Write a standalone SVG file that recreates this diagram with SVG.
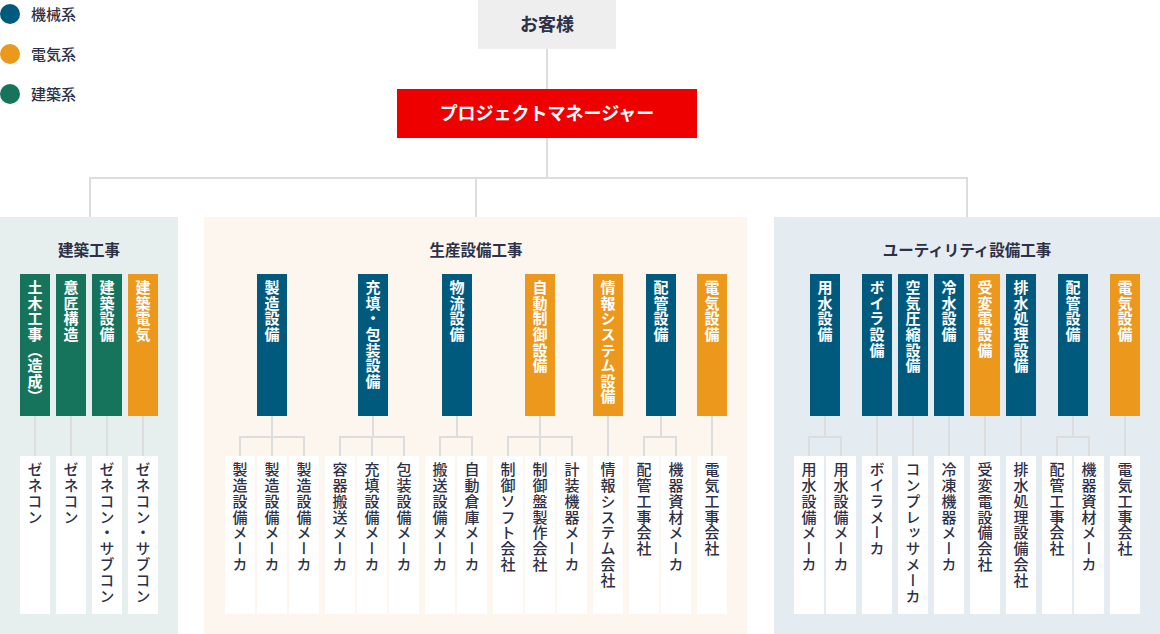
<svg xmlns="http://www.w3.org/2000/svg" width="1160" height="634" viewBox="0 0 1160 634">
<style>
text{font-family:"Noto Sans CJK JP","Noto Sans",sans-serif}
.ln{stroke:#dddddd;stroke-width:2;fill:none}
.b{fill:#005a7e}.o{fill:#eb981d}.g{fill:#16745d}
.w{fill:#ffffff}
.ct{fill:#ffffff;font-size:15px;font-weight:700;writing-mode:vertical-rl;letter-spacing:0.6px}
.lt{fill:#2d3047;font-size:15px;font-weight:500;writing-mode:vertical-rl;letter-spacing:0.8px}
.st{fill:#2d3047;font-size:15.5px;font-weight:700;text-anchor:middle}
.lg{fill:#2d3047;font-size:15px;font-weight:500}
</style>
<g id="legend">
<circle cx="10" cy="14" r="10" class="b"/><text x="31" y="19.5" class="lg">機械系</text>
<circle cx="10" cy="54" r="10" class="o"/><text x="31" y="59.5" class="lg">電気系</text>
<circle cx="10" cy="94" r="10" class="g"/><text x="31" y="99.5" class="lg">建築系</text>
</g>
<g id="sections">
<rect x="0" y="217" width="178" height="417" fill="#e6efee"/>
<rect x="204" y="217" width="543" height="417" fill="#fdf6ef"/>
<rect x="774" y="217" width="386" height="417" fill="#e4ecf1"/>
<text x="89" y="255.5" class="st">建築工事</text>
<text x="476" y="255.5" class="st">生産設備工事</text>
<text x="967" y="255.5" class="st">ユーティリティ設備工事</text>
</g>
<g id="connectors">
<path class="ln" d="M547 49V89M547 138V178M89 178H968M90 177V217M476 177V217M967 177V217"/>
<path class="ln" d="M35 416V456M71 416V456M107 416V456M143 416V456"/>
<path class="ln" d="M272 416V437M240 456V437H304V456M272 437V456"/>
<path class="ln" d="M373 416V437M340 456V437H404V456M372 437V456"/>
<path class="ln" d="M457 416V437M440 456V437H472V456"/>
<path class="ln" d="M540 416V437M508 456V437H572V456M540 437V456"/>
<path class="ln" d="M608 416V456"/>
<path class="ln" d="M661 416V437M644 456V437H676V456"/>
<path class="ln" d="M712 416V456"/>
<path class="ln" d="M825 416V437M809 456V437H841V456"/>
<path class="ln" d="M877 416V456M913 416V456M949 416V456M985 416V456M1021 416V456"/>
<path class="ln" d="M1073 416V437M1057 456V437H1089V456"/>
<path class="ln" d="M1125 416V456"/>
</g>
<g id="customer"><rect x="478" y="0" width="138" height="49" fill="#eeeeee"/><text x="547" y="31" text-anchor="middle" font-size="18" font-weight="700" fill="#2d3047">お客様</text></g>
<g id="pm"><rect x="397" y="89" width="300" height="49" fill="#ee0000"/><text x="547" y="120" text-anchor="middle" font-size="18" font-weight="700" fill="#ffffff">プロジェクトマネージャー</text></g>
<g id="c-doboku"><rect x="20" y="274" width="30" height="142" class="g"/><text x="35" y="280" class="ct">土木工事（造成）</text></g>
<g id="c-isho"><rect x="56" y="274" width="30" height="142" class="g"/><text x="71" y="280" class="ct">意匠構造</text></g>
<g id="c-kensetsubi"><rect x="92" y="274" width="30" height="142" class="g"/><text x="107" y="280" class="ct">建築設備</text></g>
<g id="c-kendenki"><rect x="128" y="274" width="30" height="142" class="o"/><text x="143" y="280" class="ct">建築電気</text></g>
<g id="l-1"><rect x="20" y="456" width="30" height="158" class="w"/><text x="35" y="462" class="lt">ゼネコン</text></g>
<g id="l-2"><rect x="56" y="456" width="30" height="158" class="w"/><text x="71" y="462" class="lt">ゼネコン</text></g>
<g id="l-3"><rect x="92" y="456" width="30" height="158" class="w"/><text x="107" y="462" class="lt">ゼネコン・サブコン</text></g>
<g id="l-4"><rect x="128" y="456" width="30" height="158" class="w"/><text x="143" y="462" class="lt">ゼネコン・サブコン</text></g>
<g id="c-seizo"><rect x="257" y="274" width="30" height="142" class="b"/><text x="272" y="280" class="ct">製造設備</text></g>
<g id="c-juten"><rect x="358" y="274" width="30" height="142" class="b"/><text x="373" y="280" class="ct">充填・包装設備</text></g>
<g id="c-butsuryu"><rect x="442" y="274" width="30" height="142" class="b"/><text x="457" y="280" class="ct">物流設備</text></g>
<g id="c-jido"><rect x="525" y="274" width="30" height="142" class="o"/><text x="540" y="280" class="ct">自動制御設備</text></g>
<g id="c-joho"><rect x="593" y="274" width="30" height="142" class="o"/><text x="608" y="280" class="ct">情報システム設備</text></g>
<g id="c-haikan1"><rect x="646" y="274" width="30" height="142" class="b"/><text x="661" y="280" class="ct">配管設備</text></g>
<g id="c-denki1"><rect x="697" y="274" width="30" height="142" class="o"/><text x="712" y="280" class="ct">電気設備</text></g>
<g id="m-1"><rect x="225" y="456" width="30" height="158" class="w"/><text x="240" y="462" class="lt">製造設備メーカ</text></g>
<g id="m-2"><rect x="257" y="456" width="30" height="158" class="w"/><text x="272" y="462" class="lt">製造設備メーカ</text></g>
<g id="m-3"><rect x="289" y="456" width="30" height="158" class="w"/><text x="304" y="462" class="lt">製造設備メーカ</text></g>
<g id="m-4"><rect x="325" y="456" width="30" height="158" class="w"/><text x="340" y="462" class="lt">容器搬送メーカ</text></g>
<g id="m-5"><rect x="357" y="456" width="30" height="158" class="w"/><text x="372" y="462" class="lt">充填設備メーカ</text></g>
<g id="m-6"><rect x="389" y="456" width="30" height="158" class="w"/><text x="404" y="462" class="lt">包装設備メーカ</text></g>
<g id="m-7"><rect x="425" y="456" width="30" height="158" class="w"/><text x="440" y="462" class="lt">搬送設備メーカ</text></g>
<g id="m-8"><rect x="457" y="456" width="30" height="158" class="w"/><text x="472" y="462" class="lt">自動倉庫メーカ</text></g>
<g id="m-9"><rect x="493" y="456" width="30" height="158" class="w"/><text x="508" y="462" class="lt">制御ソフト会社</text></g>
<g id="m-10"><rect x="525" y="456" width="30" height="158" class="w"/><text x="540" y="462" class="lt">制御盤製作会社</text></g>
<g id="m-11"><rect x="557" y="456" width="30" height="158" class="w"/><text x="572" y="462" class="lt">計装機器メーカ</text></g>
<g id="m-12"><rect x="593" y="456" width="30" height="158" class="w"/><text x="608" y="462" class="lt">情報システム会社</text></g>
<g id="m-13"><rect x="629" y="456" width="30" height="158" class="w"/><text x="644" y="462" class="lt">配管工事会社</text></g>
<g id="m-14"><rect x="661" y="456" width="30" height="158" class="w"/><text x="676" y="462" class="lt">機器資材メーカ</text></g>
<g id="m-15"><rect x="697" y="456" width="30" height="158" class="w"/><text x="712" y="462" class="lt">電気工事会社</text></g>
<g id="c-yosui"><rect x="810" y="274" width="30" height="142" class="b"/><text x="825" y="280" class="ct">用水設備</text></g>
<g id="c-boira"><rect x="862" y="274" width="30" height="142" class="b"/><text x="877" y="280" class="ct">ボイラ設備</text></g>
<g id="c-kuki"><rect x="898" y="274" width="30" height="142" class="b"/><text x="913" y="280" class="ct">空気圧縮設備</text></g>
<g id="c-reisui"><rect x="934" y="274" width="30" height="142" class="b"/><text x="949" y="280" class="ct">冷水設備</text></g>
<g id="c-juhen"><rect x="970" y="274" width="30" height="142" class="o"/><text x="985" y="280" class="ct">受変電設備</text></g>
<g id="c-haisui"><rect x="1006" y="274" width="30" height="142" class="b"/><text x="1021" y="280" class="ct">排水処理設備</text></g>
<g id="c-haikan2"><rect x="1058" y="274" width="30" height="142" class="b"/><text x="1073" y="280" class="ct">配管設備</text></g>
<g id="c-denki2"><rect x="1110" y="274" width="30" height="142" class="o"/><text x="1125" y="280" class="ct">電気設備</text></g>
<g id="r-1"><rect x="794" y="456" width="30" height="158" class="w"/><text x="809" y="462" class="lt">用水設備メーカ</text></g>
<g id="r-2"><rect x="826" y="456" width="30" height="158" class="w"/><text x="841" y="462" class="lt">用水設備メーカ</text></g>
<g id="r-3"><rect x="862" y="456" width="30" height="158" class="w"/><text x="877" y="462" class="lt">ボイラメーカ</text></g>
<g id="r-4"><rect x="898" y="456" width="30" height="158" class="w"/><text x="913" y="462" class="lt">コンプレッサメーカ</text></g>
<g id="r-5"><rect x="934" y="456" width="30" height="158" class="w"/><text x="949" y="462" class="lt">冷凍機器メーカ</text></g>
<g id="r-6"><rect x="970" y="456" width="30" height="158" class="w"/><text x="985" y="462" class="lt">受変電設備会社</text></g>
<g id="r-7"><rect x="1006" y="456" width="30" height="158" class="w"/><text x="1021" y="462" class="lt">排水処理設備会社</text></g>
<g id="r-8"><rect x="1042" y="456" width="30" height="158" class="w"/><text x="1057" y="462" class="lt">配管工事会社</text></g>
<g id="r-9"><rect x="1074" y="456" width="30" height="158" class="w"/><text x="1089" y="462" class="lt">機器資材メーカ</text></g>
<g id="r-10"><rect x="1110" y="456" width="30" height="158" class="w"/><text x="1125" y="462" class="lt">電気工事会社</text></g>
</svg>
